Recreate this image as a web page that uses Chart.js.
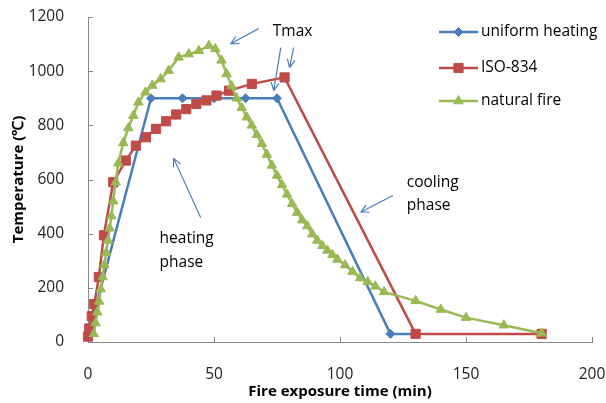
<!DOCTYPE html>
<html>
<head>
<meta charset="utf-8">
<script src="https://cdn.jsdelivr.net/npm/chart.js@4.4.1/dist/chart.umd.min.js"></script>
<style>
  html, body { margin: 0; padding: 0; background: #fff; }
  #wrap { width: 606px; height: 403px; }
</style>
</head>
<body>
<div id="wrap"><canvas id="c" width="606" height="403"></canvas></div>
<script>
// series
const uniformTime = [0, 25, 37.5, 50, 62.5, 75, 120, 130];
const uniformTemp = [20, 900, 900, 900, 900, 900, 30, 30];

const isoTime = [0, 0.5, 1.5, 2.5, 4.3, 6.3, 10, 15, 19, 23, 27, 31, 35, 39, 43, 47, 51, 56, 65, 78, 130, 180];
const isoTemp = [20, 50, 95, 140, 240, 394, 590, 670, 725, 756, 787, 815, 840, 860, 879, 892, 910, 928, 953, 977, 30, 30];

const fireTime = [2.3, 3, 3.7, 4.4, 5.1, 5.8, 6.5, 7.2, 7.9, 8.6, 9.3, 10, 11, 12, 14, 16, 18, 20, 22.8, 25.5, 28.8, 32, 36, 40, 44, 48,
  50.5, 53, 55, 57, 59, 61, 63, 65, 67, 69, 71, 73, 75, 77, 79, 81, 83, 85, 87, 89, 91, 93, 95, 97, 99, 102, 105, 108, 111, 114, 117.5,
  130, 140, 150, 165, 180];
const fireTemp = [30, 70, 110, 150, 195, 240, 285, 330, 375, 420, 465, 520, 590, 660, 735, 790, 836, 885, 922, 947, 971, 1002, 1051, 1063, 1075, 1094,
  1082, 1040, 990, 945, 900, 865, 830, 800, 765, 732, 692, 652, 615, 580, 545, 510, 478, 450, 428, 398, 375, 355, 338, 322, 305, 284, 260, 236, 222, 206, 185,
  152, 120, 90, 62, 32];

const seriesNames = ['uniform heating', 'ISO-834', 'natural fire'];
const xTicks = [0, 50, 100, 150, 200];
const yTicks = [0, 200, 400, 600, 800, 1000, 1200];

// annotation labels and arrows, in data units (time, temperature)
const noteText = ['Tmax', 'heating', 'phase', 'cooling', 'phase'];
const noteTime = [81.2, 28.4, 28.4, 126.5, 126.5];
const noteTemp = [1145, 383, 295, 589, 505];
const arrowFrom = [[67.7, 1157], [76.5, 1087], [81.6, 1087], [44.7, 460], [121, 541]];
const arrowTo = [[56.6, 1101], [73.7, 928], [80, 1013], [34, 678], [108.2, 479]];

const BLUE = '#4a7ebb', RED = '#be4b48', GREEN = '#98b954';
const FONT = "'Open Sans', 'Liberation Sans', Arial, sans-serif";

const pts = (xs, ys) => xs.map((x, i) => ({ x, y: ys[i] }));

const innerTicks = {
  id: 'innerTicks',
  beforeDatasetsDraw(chart) {
    const { ctx, chartArea: a, scales: { x, y } } = chart;
    ctx.save();
    ctx.strokeStyle = '#888';
    ctx.lineWidth = 1;
    ctx.beginPath();
    xTicks.slice(1).forEach(v => {
      const px = Math.round(x.getPixelForValue(v)) + 0.5;
      ctx.moveTo(px, a.bottom); ctx.lineTo(px, a.bottom - 5);
    });
    yTicks.slice(1).forEach(v => {
      const py = Math.round(y.getPixelForValue(v)) + 0.5;
      ctx.moveTo(a.left, py); ctx.lineTo(a.left + 5, py);
    });
    ctx.stroke();
    ctx.restore();
  }
};

const notes = {
  id: 'notes',
  afterDatasetsDraw(chart) {
    const { ctx, scales: { x, y } } = chart;
    ctx.save();
    ctx.strokeStyle = BLUE;
    ctx.lineWidth = 1.2;
    arrowFrom.forEach((f, i) => {
      const x0 = x.getPixelForValue(f[0]), y0 = y.getPixelForValue(f[1]);
      const x1 = x.getPixelForValue(arrowTo[i][0]), y1 = y.getPixelForValue(arrowTo[i][1]);
      const ang = Math.atan2(y1 - y0, x1 - x0);
      ctx.beginPath();
      ctx.moveTo(x0, y0); ctx.lineTo(x1, y1);
      [0.45, -0.45].forEach(d => {
        ctx.moveTo(x1, y1);
        ctx.lineTo(x1 - 9 * Math.cos(ang + d), y1 - 9 * Math.sin(ang + d));
      });
      ctx.stroke();
    });
    ctx.fillStyle = '#000';
    ctx.font = '15.5px ' + FONT;
    ctx.textBaseline = 'middle';
    noteText.forEach((t, i) => {
      ctx.textAlign = i === 0 ? 'center' : 'left';
      ctx.fillText(t, x.getPixelForValue(noteTime[i]), y.getPixelForValue(noteTemp[i]));
    });
    ctx.restore();
  }
};

const sideLegend = {
  id: 'sideLegend',
  afterDraw(chart) {
    const { ctx } = chart;
    const rows = [32, 68, 101];
    ctx.save();
    chart.data.datasets.forEach((ds, i) => {
      const yy = rows[i];
      ctx.strokeStyle = ds.borderColor;
      ctx.lineWidth = 2.5;
      ctx.beginPath();
      ctx.moveTo(439, yy); ctx.lineTo(478, yy);
      ctx.stroke();
      ctx.fillStyle = ds.pointBackgroundColor;
      ctx.strokeStyle = ds.pointBorderColor;
      ctx.lineWidth = 1;
      Chart.helpers.drawPoint(ctx, { pointStyle: ds.pointStyle, radius: ds.pointRadius, rotation: 0, borderWidth: 1 }, 458.5, yy);
      ctx.fillStyle = '#000';
      ctx.font = '15.5px ' + FONT;
      ctx.textAlign = 'left';
      ctx.textBaseline = 'middle';
      ctx.fillText(seriesNames[i], 481, yy);
    });
    ctx.restore();
  }
};

function series(label, data, color, style, radius, order) {
  return {
    label, data, order,
    borderColor: color, backgroundColor: color,
    pointBackgroundColor: color, pointBorderColor: color,
    borderWidth: 2.5, pointStyle: style, pointRadius: radius, pointBorderWidth: 1,
    tension: 0, clip: false
  };
}

new Chart(document.getElementById('c'), {
  type: 'line',
  data: {
    datasets: [
      series(seriesNames[0], pts(uniformTime, uniformTemp), BLUE, 'rectRot', 4.5, 3),
      series(seriesNames[1], pts(isoTime, isoTemp), RED, 'rect', 6.5, 2),
      series(seriesNames[2], pts(fireTime, fireTemp), GREEN, 'triangle', 5.5, 1)
    ]
  },
  options: {
    responsive: false,
    animation: false,
    layout: { padding: 0, autoPadding: false },
    plugins: { legend: { display: false }, tooltip: { enabled: false } },
    scales: {
      x: {
        type: 'linear', min: 0, max: 200,
        afterFit: s => { s.height = 61; s.paddingLeft = 0; s.paddingRight = 14; },
        afterBuildTicks: s => { s.ticks = xTicks.map(v => ({ value: v })); },
        grid: { display: false },
        border: { color: '#888', width: 1 },
        ticks: { color: '#222', padding: 15, font: { size: 15.5, family: FONT }, callback: v => String(v) },
        title: { display: true, text: 'Fire exposure time (min)', color: '#000', padding: { top: 0, bottom: 2 },
          font: { size: 15, weight: 'bold', family: FONT } }
      },
      y: {
        min: 0, max: 1200,
        afterFit: s => { s.width = 88; s.paddingTop = 17; s.paddingBottom = 0; },
        afterBuildTicks: s => { s.ticks = yTicks.map(v => ({ value: v })); },
        grid: { display: false },
        border: { color: '#888', width: 1 },
        ticks: { color: '#222', padding: 16, font: { size: 15.5, family: FONT }, callback: v => String(v) },
        title: { display: true, text: 'Temperature (℃)', color: '#000', padding: { top: 10, bottom: 0 },
          font: { size: 15, weight: 'bold', family: FONT } }
      }
    }
  },
  plugins: [innerTicks, notes, sideLegend]
});
</script>
</body>
</html>
